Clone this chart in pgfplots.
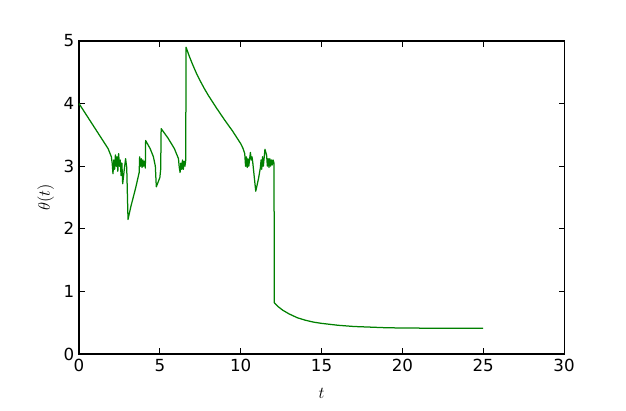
\documentclass[border=0pt]{standalone}
\usepackage{fontspec}
\setmainfont{DejaVu Sans}
\usepackage{pgfplots}
\pgfplotsset{compat=1.18}
\definecolor{mplgreen}{rgb}{0,0.5,0}
\begin{document}
\begin{tikzpicture}
\begin{axis}[
  name=ax,
  scale only axis,
  width=349.2pt, height=225.4pt,
  xmin=0, xmax=30, ymin=0, ymax=5,
  xtick={0,5,...,30}, ytick={0,1,...,5},
  tick align=inside,
  major tick length=4pt,
  minor tick num=0,
  tick style={black, line width=0.6pt},
  axis line style={line width=0.8pt},
  tick label style={font=\fontsize{12}{14}\selectfont},
  /pgf/number format/assume math mode=true,
  xlabel={$t$}, ylabel={$\theta(t)$},
  label style={font=\fontsize{12}{14}\selectfont},
  xlabel style={yshift=-5pt},
  ylabel style={yshift=0pt},
  clip=false,
]
\addplot[mplgreen, line width=0.9pt, line join=round] coordinates {
(0,4.0) (0.5,3.8) (1.0,3.6) (1.5,3.4) (1.8,3.28) (2.0,3.15) (2.05,3.05)
(2.1,2.88) (2.15,3.1) (2.2,2.95) (2.25,3.18) (2.3,3.0) (2.35,3.15) (2.4,2.92)
(2.45,3.2) (2.5,3.0) (2.55,3.1) (2.6,2.85) (2.65,3.05) (2.7,2.72) (2.8,2.95)
(2.88,3.12) (2.95,2.98) (3.03,2.15) (3.2,2.35) (3.5,2.65) (3.72,2.9)
(3.75,3.15) (3.8,3.0) (3.85,3.12) (3.9,2.98) (3.95,3.1) (4.0,3.0) (4.05,3.08)
(4.1,2.97) (4.12,3.41) (4.4,3.28) (4.6,3.15) (4.72,3.0) (4.78,2.67) (5.0,2.82)
(5.05,2.95) (5.08,3.6) (5.5,3.45) (5.9,3.28) (6.15,3.12) (6.2,2.98) (6.25,2.9)
(6.3,3.05) (6.35,2.95) (6.4,3.1) (6.45,2.95) (6.5,3.08) (6.55,3.0) (6.6,3.1)
(6.62,4.9) (6.8,4.77) (7.0,4.64) (7.25,4.49) (7.5,4.36) (7.75,4.24) (8.0,4.13)
(8.5,3.93) (9.0,3.74) (9.5,3.56) (9.75,3.46) (10.0,3.36) (10.15,3.28)
(10.25,3.2) (10.3,3.0) (10.35,3.15) (10.4,2.98) (10.45,3.12)
(10.5,3.0) (10.6,3.22) (10.65,3.1) (10.7,3.15) (10.75,3.05) (10.93,2.6)
(11.1,2.8) (11.22,2.98) (11.26,3.1) (11.3,2.95) (11.35,3.15) (11.4,3.0)
(11.5,3.27) (11.6,3.18) (11.65,3.0) (11.7,3.12) (11.75,2.98) (11.8,3.12)
(11.85,3.0) (11.9,3.1) (11.95,3.02) (12.0,3.1) (12.06,3.05) (12.08,0.82)
(12.3,0.76) (12.6,0.70) (13.0,0.64) (13.5,0.58) (14.0,0.54) (14.5,0.51)
(15.0,0.49) (16,0.46) (17,0.44) (18,0.43) (19,0.42) (20,0.416) (22,0.412)
(25,0.41)
};
\end{axis}
\path[use as bounding box] ([shift={(-56.9pt,-41pt)}]ax.south west) rectangle ([shift={(44.6pt,29.5pt)}]ax.north east);
\end{tikzpicture}
\end{document}
